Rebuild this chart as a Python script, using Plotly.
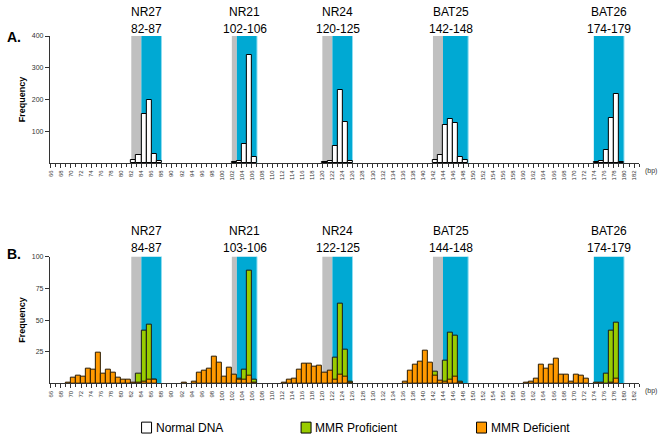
import plotly.graph_objects as go

W, H = 661, 437

# ---------------- data ----------------
# Panel A: normal DNA (bp bin start, frequency)
normal_bp = [82, 83, 84, 85, 86, 87,
             102, 103, 104, 105, 106,
             120, 121, 122, 123, 124, 125,
             142, 143, 144, 145, 146, 147, 148,
             174, 175, 176, 177, 178, 179]
normal_freq = [10, 26, 155, 200, 30, 5,
               2, 7, 60, 341, 18,
               2, 5, 55, 229, 130, 7,
               10, 26, 119, 138, 126, 19, 8,
               2, 5, 42, 141, 218, 2]

# Panel B: MMR proficient
prof_bp = [83, 84, 85, 86,
           103, 104, 105, 106,
           122, 123, 124, 125,
           142, 144, 145, 146, 147,
           176, 177, 178]
prof_freq = [8, 42, 46, 3,
             4, 11, 89, 3,
             20, 63, 27, 1.5,
             9, 18, 40, 38, 1.5,
             8, 42, 48]

# Panel B: MMR deficient
def_bp = [69, 70, 71, 72, 73, 74, 75, 76, 77, 78, 79, 80, 81, 82, 83, 84, 85, 86,
          92, 94, 95, 96, 97, 98, 99, 100, 101, 102, 103, 104, 105, 106,
          112, 113, 114, 115, 116, 117, 118, 119, 120, 121, 122, 123, 124, 125,
          136, 137, 138, 139, 140, 141, 142, 143, 144, 145, 146, 147,
          160, 161, 162, 163, 164, 165, 166, 167, 168, 169, 170, 171, 172,
          174, 175, 177, 178]
def_freq = [1, 4.4, 6, 5.7, 11.5, 10.7, 24, 8, 10.7, 8.3, 4.4, 3.4, 2.9, 0.5, 1, 1.3, 3.4, 3.4,
            1, 1.6, 8.3, 10.4, 11.5, 21.4, 16.1, 5.5, 12.2, 6.8, 3, 3.1, 6.5, 1,
            0.8, 2.9, 3.6, 10.7, 15.6, 15.6, 13.5, 14.3, 8.3, 9.9, 3, 6.8, 5.7, 0.5,
            1.3, 10.2, 14.6, 17.4, 26, 16.1, 6, 2.3, 1.8, 3.1, 5.5, 0.5,
            0.3, 1.3, 4.2, 14.8, 12, 14.6, 19.8, 7.3, 7.3, 1.3, 6.8, 6.3, 3.6,
            0.5, 0.5, 0.5, 3.6]

# Markers and shaded windows (gray start, blue start, blue end)
markers = ["NR27", "NR21", "NR24", "BAT25", "BAT26"]
ranges_A = ["82-87", "102-106", "120-125", "142-148", "174-179"]
ranges_B = ["84-87", "103-106", "122-125", "144-148", "174-179"]
gray_start = [82, 102, 120, 142, 174]
blue_start = [84, 103, 122, 144, 174]
blue_end = [88, 107, 126, 149, 180]

x_ticks = list(range(66, 183, 2))
yticks_A = [100, 200, 300, 400]
yticks_B = [25, 50, 75, 100]

# ---------------- figure ----------------
BLUE = "#00A9D3"
GRAY = "#C0C0C0"
GREEN = "#99CC00"
ORANGE = "#FF9900"

def px_y(y):
    return (H - y) / H

def px_x(x):
    return x / W

fig = go.Figure()

centers = lambda lst: [b + 0.5 for b in lst]

fig.add_trace(go.Bar(x=centers(normal_bp), y=normal_freq, width=1,
                     marker=dict(color="white", line=dict(color="black", width=1)),
                     xaxis="x", yaxis="y", showlegend=False))
fig.add_trace(go.Bar(x=centers(prof_bp), y=prof_freq, width=1,
                     marker=dict(color=GREEN, line=dict(color="#1a1a1a", width=1)),
                     xaxis="x2", yaxis="y2", showlegend=False))
fig.add_trace(go.Bar(x=centers(def_bp), y=def_freq, width=1,
                     marker=dict(color=ORANGE, line=dict(color="#2a1a00", width=1)),
                     xaxis="x2", yaxis="y2", showlegend=False))

shapes = []
for xr, yr in (("x", "y domain"), ("x2", "y2 domain")):
    for g, b, e in zip(gray_start, blue_start, blue_end):
        if b > g:
            shapes.append(dict(type="rect", xref=xr, yref=yr, x0=g, x1=b, y0=0, y1=1,
                               fillcolor=GRAY, line=dict(width=0), layer="below"))
        shapes.append(dict(type="rect", xref=xr, yref=yr, x0=b, x1=e, y0=0, y1=1,
                           fillcolor=BLUE, line=dict(width=0), layer="below"))
        shapes.append(dict(type="line", xref=xr, yref=yr, x0=e, x1=e, y0=0, y1=1,
                           line=dict(color="#8fdcf0", width=1), layer="below"))

xdom = [48 / W, 639 / W]
axis_common = dict(range=[65.8, 183], tickmode="array", tickvals=x_ticks,
                   ticktext=[str(t) for t in x_ticks], tickangle=-90,
                   tickfont=dict(family="Arial", size=6, color="#333"),
                   ticks="outside", ticklen=4, tickcolor="#333", tickwidth=1,
                   minor=dict(dtick=1, tick0=66, ticks="outside", ticklen=3,
                              tickcolor="#333", tickwidth=1),
                   showline=True, linecolor="#333", linewidth=1,
                   showgrid=False, zeroline=False, fixedrange=True)
yaxis_common = dict(ticks="outside", ticklen=4, tickcolor="#333",
                    tickfont=dict(family="Arial", size=7, color="#333"),
                    showline=True, linecolor="#333", linewidth=1,
                    showgrid=False, zeroline=False,
                    title=dict(text="<b>Frequency</b>", font=dict(family="Arial", size=9, color="black"),
                               standoff=4))

annotations = []
label_pos_A = (8, 25)
label_pos_B = (229, 246)
for names, rng, (yn, yr) in ((markers, ranges_A, label_pos_A), (markers, ranges_B, label_pos_B)):
    for nm, r, g, e in zip(names, rng, gray_start, blue_end):
        xc = (g + e) / 2
        xpix = 49.3 + (xc - 66) * 5.04
        annotations.append(dict(text=nm, x=px_x(xpix), y=px_y(yn), xref="paper", yref="paper",
                                showarrow=False, font=dict(family="Arial", size=12, color="black"),
                                xanchor="center", yanchor="middle"))
        annotations.append(dict(text=r, x=px_x(xpix), y=px_y(yr), xref="paper", yref="paper",
                                showarrow=False, font=dict(family="Arial", size=12, color="black"),
                                xanchor="center", yanchor="middle"))

for txt, yp in (("A.", 33), ("B.", 252)):
    annotations.append(dict(text="<b>" + txt + "</b>", x=px_x(3), y=px_y(yp), xref="paper", yref="paper",
                            showarrow=False, font=dict(family="Arial", size=14, color="black"),
                            xanchor="left", yanchor="middle"))
for yp in (169, 391):
    annotations.append(dict(text="(bp)", x=px_x(643), y=px_y(yp), xref="paper", yref="paper",
                            showarrow=False, font=dict(family="Arial", size=7, color="#333"),
                            xanchor="left", yanchor="middle"))

# legend (manual)
legend_items = [("Normal DNA", "white", 140), ("MMR Proficient", GREEN, 300), ("MMR Deficient", ORANGE, 476)]
for name, col, xl in legend_items:
    shapes.append(dict(type="rect", xref="paper", yref="paper",
                       x0=px_x(xl), x1=px_x(xl + 10), y0=px_y(433), y1=px_y(422),
                       fillcolor=col, line=dict(color="black", width=1)))
    annotations.append(dict(text=name, x=px_x(xl + 12), y=px_y(427.5), xref="paper", yref="paper",
                            showarrow=False, font=dict(family="Arial", size=12, color="black"),
                            xanchor="left", yanchor="middle"))

fig.update_layout(
    width=W, height=H, margin=dict(l=0, r=0, t=0, b=0),
    paper_bgcolor="white", plot_bgcolor="white",
    barmode="overlay", bargap=0,
    xaxis=dict(domain=xdom, anchor="y", **axis_common),
    xaxis2=dict(domain=xdom, anchor="y2", **axis_common),
    yaxis=dict(domain=[px_y(160.5), px_y(32.3)], range=[0, 400], tickvals=yticks_A,
               anchor="x", **yaxis_common),
    yaxis2=dict(domain=[px_y(383), px_y(255)], range=[0, 100], tickvals=yticks_B,
                anchor="x2", **yaxis_common),
    shapes=shapes, annotations=annotations, showlegend=False,
)

fig.write_html("out.html", config={"displayModeBar": False})

# remove default page margins so the 661x437 figure fills the window exactly
with open("out.html", "r", encoding="utf-8") as f:
    html = f.read()
html = html.replace("<head>", "<head><style>html,body{margin:0;padding:0;overflow:hidden;}</style>", 1)
with open("out.html", "w", encoding="utf-8") as f:
    f.write(html)
